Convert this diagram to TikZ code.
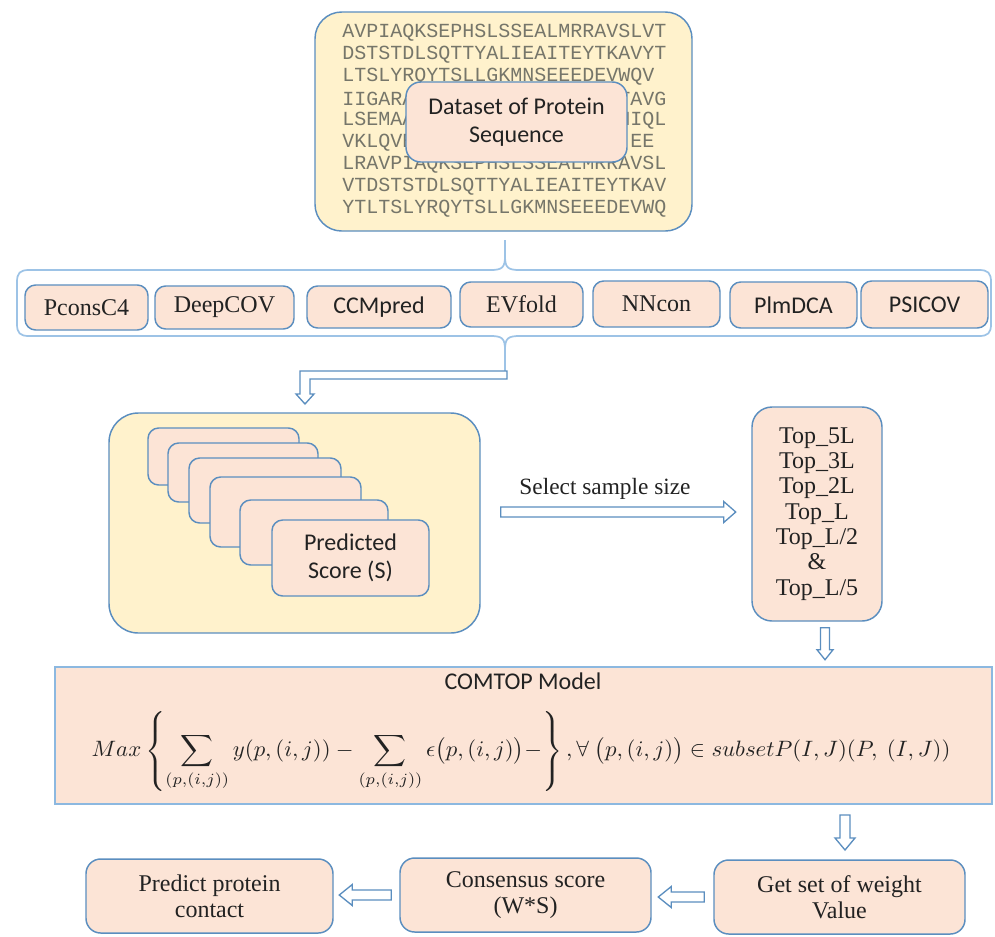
\documentclass[tikz,border=0pt]{standalone}
\usepackage{fontspec}
\usepackage{graphicx}
\usepackage{amsmath}
\setmainfont{Liberation Serif}
\newfontfamily\calib{Carlito}
\newfontfamily\seqfont{Liberation Mono}
\usetikzlibrary{fit,calc}
\definecolor{yel}{HTML}{FFF2CC}
\definecolor{peach}{HTML}{FCE4D6}
\definecolor{bord}{HTML}{5B8EBF}
\definecolor{lblue}{HTML}{9DC3E6}
\definecolor{cblue}{HTML}{8CB8E0}
\definecolor{seqgray}{HTML}{76766A}
\definecolor{txt}{HTML}{222222}
\newcommand\hollowarrow[6]{% start, angle, length, shaft half, head half, head length
  \draw[harrow, shift={(#1)}, rotate=#2] (0,-#4) -- (#3-#6,-#4) -- (#3-#6,-#5) -- (#3,0) -- (#3-#6,#5) -- (#3-#6,#4) -- (0,#4) -- cycle;}
\tikzset{
  ybox/.style={draw=bord, line width=1.1pt, fill=yel, rounded corners=20pt, inner sep=0pt},
  pbox/.style={draw=bord, line width=1.1pt, fill=peach, rounded corners=8pt, inner sep=0pt},
  harrow/.style={draw=bord, line width=1pt, fill=white, line join=miter},
  bracestyle/.style={draw=lblue, line width=1.3pt},
  seqline/.style={anchor=west, inner sep=0pt, text=seqgray, font=\seqfont\fontsize{15}{15}\selectfont},
  serif/.style={font=\fontsize{18}{19.5}\selectfont, text=txt, align=center},
  sans/.style={font=\calib\fontsize{18}{21}\selectfont, text=txt, align=center},
}
\begin{document}
\begin{tikzpicture}[x=0.75pt,y=-0.75pt]
\useasboundingbox (0,0) rectangle (995,936);

% ---- top sequence box
\node[ybox, fit={(315,12) (692,231)}] (seqbox) {};
\node[seqline] (seq1) at (342,33)  {AVPIAQKSEPHSLSSEALMRRAVSLVT};
\node[seqline] (seq2) at (342,55)  {DSTSTDLSQTTYALIEAITEYTKAVYT};
\node[seqline] (seq3) at (342,77)  {LTSLYRQYTSLLGKMNSEEEDEVWQV};
\node[seqline] (seq4) at (342,99)  {IIGARA\phantom{XXXXXXXXXXXXXXXXX}TAVG};
\node[seqline] (seq5) at (342,121) {LSEMAA\phantom{XXXXXXXXXXXXXXXXX}HIQL};
\node[seqline] (seq6) at (342,143) {VKLQVE\phantom{XXXXXXXXXXXXXXXXXX}EE};
\node[seqline] (seq7) at (342,165) {LRAVPIAQKSEPHSLSSEALMRRAVSL};
\node[seqline] (seq8) at (342,187) {VTDSTSTDLSQTTYALIEAITEYTKAV};
\node[seqline] (seq9) at (342,209) {YTLTSLYRQYTSLLGKMNSEEEDEVWQ};
\node[pbox, rounded corners=11pt, fit={(406,82) (627,162)},
  label={[sans]center:Dataset of Protein\\Sequence}] (dataset) {};

% ---- brace around the methods
\draw[bracestyle]
  (505,240) -- (505,256) .. controls (505,268) and (502,270) .. (490,270)
  -- (29,270) .. controls (20,270) and (17,273) .. (17,282)
  -- (17,324) .. controls (17,333) and (20,336) .. (29,336)
  -- (490,336) .. controls (502,336) and (505,338) .. (505,350) -- (505,371);
\draw[bracestyle]
  (505,256) .. controls (505,268) and (508,270) .. (520,270)
  -- (979,270) .. controls (988,270) and (991,273) .. (991,282)
  -- (991,324) .. controls (991,333) and (988,336) .. (979,336)
  -- (520,336) .. controls (508,336) and (505,338) .. (505,350);

% ---- methods
\node[pbox, fit={(25,285) (148,330)}, label={[serif]center:PconsC4}] (pcons) {};
\node[pbox, fit={(155,286) (294,329)}, label={[serif]center:DeepCOV}] (deepcov) {};
\node[pbox, fit={(307,286) (451,328)}, label={[sans]center:CCMpred}] (ccm) {};
\node[pbox, fit={(460,282) (583,327)}, label={[serif]center:EVfold}] (evfold) {};
\node[pbox, fit={(593,281) (720,327)}, label={[serif]center:NNcon}] (nncon) {};
\node[pbox, fit={(730,282) (857,328)}, label={[sans]center:PlmDCA}] (plm) {};
\node[pbox, fit={(861,281) (988,328)}, label={[sans]center:PSICOV}] (psicov) {};

% ---- bent arrow
\draw[harrow] (507,371) -- (300,371) -- (300,394) -- (296,394) -- (305,404) -- (314,394)
  -- (310,394) -- (310,379) -- (507,379) -- cycle;

% ---- predicted scores
\node[ybox, rounded corners=22pt, fit={(109,413) (480,633)}] (scorebox) {};
\node[pbox, fit={(148,428) (299,485)}] (c1) {};
\node[pbox, fit={(168,443) (318,502)}] (c2) {};
\node[pbox, fit={(189,458) (341,523)}] (c3) {};
\node[pbox, fit={(210,477) (361,547)}] (c4) {};
\node[pbox, fit={(240,500) (388,565)}] (c5) {};
\node[pbox, fit={(272,520) (429,596)}, label={[sans]center:Predicted\\Score (S)}] (c6) {};

% ---- select sample size
\coordinate (selstart) at ($(scorebox.east)+(20,-11)$);
\hollowarrow{selstart}{0}{235}{5}{10.5}{12}
\node[serif, font=\fontsize{17.5}{19}\selectfont] (sellabel) at (605,489) {Select sample size};

\node[pbox, rounded corners=15pt, fit={(752,407) (882,621)}] (topbox) {};
\node[serif, font=\fontsize{18}{19}\selectfont] (toptext) at (topbox.center)
  {Top\_5L\\Top\_3L\\Top\_2L\\Top\_L\\Top\_L/2\\\&\\Top\_L/5};

\coordinate (tdown) at ($(topbox.south)+(8,6)$);
\hollowarrow{tdown}{-90}{32}{4.5}{8}{10}

% ---- COMTOP model
\node[draw=cblue, line width=1.8pt, fill=peach, inner sep=0pt, fit={(55,667) (992,804)}] (comtop) {};
\node[sans, inner sep=1pt] (ctitle) at (523,681) {COMTOP Model};
\node[inner sep=0pt, text=txt] (formula) at (521,751) {\resizebox*{644pt}{60pt}{$\displaystyle
  Max\left\{\sum_{(p,(i,j))} y(p,(i,j)) - \sum_{(p,(i,j))} \epsilon\bigl(p,(i,j)\bigr) - \right\},
  \forall\ \bigl(p,(i,j)\bigr) \in subsetP(I,J)(P,\ (I,J))$}};

\coordinate (cdown) at (845,815);
\hollowarrow{cdown}{-90}{35}{5}{10}{12}

% ---- bottom row
\node[pbox, rounded corners=11pt, fit={(86,859) (333,933)}, label={[serif]center:Predict protein\\contact}] (predict) {};
\node[pbox, rounded corners=11pt, fit={(400,858) (651,932)}, label={[serif]center:Consensus score\\(W*S)}] (consensus) {};
\node[pbox, rounded corners=11pt, fit={(714,860) (965,934)}, label={[serif]center:Get set of weight\\Value}] (getw) {};

\coordinate (b1) at ($(getw.west)+(-9,0)$);
\hollowarrow{b1}{180}{46}{5}{10.5}{13}
\coordinate (b2) at ($(consensus.west)+(-8,0)$);
\hollowarrow{b2}{180}{52}{5}{10.5}{13}
\end{tikzpicture}
\end{document}
